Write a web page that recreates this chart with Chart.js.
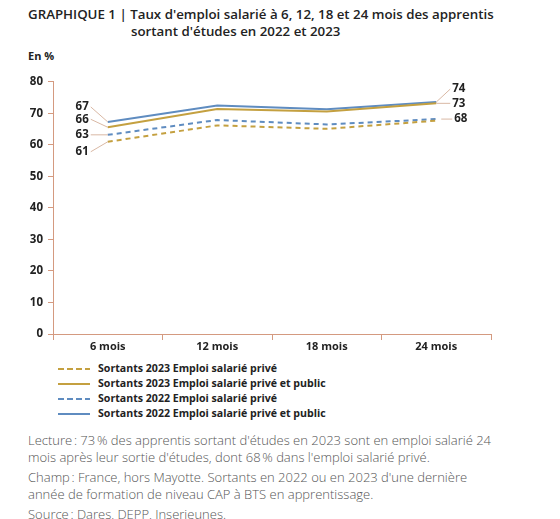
<!DOCTYPE html>
<html lang="fr">
<head>
<meta charset="utf-8">
<script src="https://cdn.jsdelivr.net/npm/chart.js@4"></script>
<style>
  body { margin: 0; background: #fff; font-family: "Open Sans", sans-serif; color: #222; }
  #wrap { position: relative; width: 560px; height: 519px; overflow: hidden; }
  #titre { position: absolute; left: 28px; top: 6px; font-size: 13.3px; font-weight: 600; line-height: 17px; color: #222; }
  #titre .l2 { padding-left: 103px; }
  #unite { position: absolute; left: 28px; top: 48px; font-size: 11px; font-weight: 700; }
  #cv { position: absolute; left: 0; top: 70px; }
  #legende { position: absolute; left: 58px; top: 361px; font-size: 10.6px; font-weight: 700; line-height: 15px; }
  #legende div { display: flex; align-items: center; }
  #legende i { display: inline-block; width: 32px; height: 2px; margin-right: 8px; }
  #notes { position: absolute; left: 28px; top: 432px; width: 472px; font-size: 13px; color: #555; line-height: 16.5px; font-weight: 300; }
  #notes p { margin: 0 0 4px 0; }
</style>
</head>
<body>
<div id="wrap">
  <div id="titre">GRAPHIQUE 1 | Taux d'emploi salarié à 6, 12, 18 et 24 mois des apprentis<br><span class="l2">sortant d'études en 2022 et 2023</span></div>
  <div id="unite">En %</div>
  <canvas id="cv" width="520" height="290"></canvas>
  <div id="legende"></div>
  <div id="notes">
    <p>Lecture&#8239;: 73&#8239;% des apprentis sortant d'études en 2023 sont en emploi salarié 24 mois après leur sortie d'études, dont 68&#8239;% dans l'emploi salarié privé.</p>
    <p>Champ&#8239;: France, hors Mayotte. Sortants en 2022 ou en 2023 d'une dernière année de formation de niveau CAP à BTS en apprentissage.</p>
    <p>Source&#8239;: Dares, DEPP, Inserjeunes.</p>
  </div>
</div>
<script>
let mois = ["6 mois", "12 mois", "18 mois", "24 mois"];
let yTicks = [0, 10, 20, 30, 40, 50, 60, 70, 80];

let prive2023 = [61.0, 66.2, 65.1, 67.7];
let total2023 = [65.6, 71.4, 70.6, 73.2];
let prive2022 = [63.2, 67.9, 66.5, 68.2];
let total2022 = [67.3, 72.5, 71.3, 73.6];

let noms = [
  "Sortants 2023 Emploi salarié privé",
  "Sortants 2023 Emploi salarié privé et public",
  "Sortants 2022 Emploi salarié privé",
  "Sortants 2022 Emploi salarié privé et public"
];

let OR = "#c4a040";
let BLEU = "#5f8cc0";
let AXE = "#d49a80";

// étiquettes : [dataset, index, dx, dy] position du texte par rapport au point
let etiquettes = [
  [3, 0, -20, -15],
  [1, 0, -20, -8],
  [2, 0, -20, 0],
  [0, 0, -20, 10],
  [3, 3, 16, -13],
  [1, 3, 16, 0],
  [2, 3, 18, 0]
];

let pluginEtiquettes = {
  id: "etiquettes",
  afterDatasetsDraw(chart) {
    let ctx = chart.ctx;
    ctx.save();
    ctx.font = "700 11.5px 'Open Sans'";
    ctx.fillStyle = "#222";
    ctx.textBaseline = "middle";
    etiquettes.forEach(([d, i, dx, dy]) => {
      let pt = chart.getDatasetMeta(d).data[i];
      let v = chart.data.datasets[d].data[i];
      let tx = pt.x + dx, ty = pt.y + dy;
      ctx.strokeStyle = "#d9b8a4";
      ctx.lineWidth = 1;
      ctx.beginPath();
      if (dx < 0) {
        ctx.moveTo(pt.x, pt.y);
        ctx.lineTo(tx + 3, ty);
        ctx.stroke();
        ctx.textAlign = "right";
        ctx.fillText(Math.round(v), tx + 1, ty);
      } else {
        ctx.moveTo(pt.x + (dy === 0 && d === 2 ? 5 : 0), pt.y);
        ctx.lineTo(tx - 2, ty);
        ctx.stroke();
        ctx.textAlign = "left";
        ctx.fillText(Math.round(v), tx, ty);
      }
    });
    ctx.restore();
  }
};

function serie(label, data, couleur, pointille) {
  return {
    label, data,
    borderColor: couleur,
    backgroundColor: couleur,
    borderWidth: 2,
    borderDash: pointille ? [5, 4] : [],
    pointRadius: 0,
    tension: 0,
    fill: false
  };
}

let datasets = [
  serie(noms[0], prive2023, OR, true),
  serie(noms[1], total2023, OR, false),
  serie(noms[2], prive2022, BLEU, true),
  serie(noms[3], total2022, BLEU, false)
];

new Chart(document.getElementById("cv"), {
  type: "line",
  data: { labels: mois, datasets: datasets },
  plugins: [pluginEtiquettes],
  options: {
    responsive: false,
    animation: false,
    layout: { padding: { top: 11, right: 29, left: 0, bottom: 0 } },
    plugins: { legend: { display: false }, tooltip: { enabled: false } },
    scales: {
      x: {
        offset: true,
        grid: { offset: true, drawOnChartArea: false, color: AXE, tickLength: 6 },
        border: { color: AXE, width: 1 },
        ticks: { color: "#222", font: { family: "Open Sans", size: 11, weight: 700 }, padding: 0, maxRotation: 0 },
        afterFit(s) { s.height = 26; }
      },
      y: {
        min: 0, max: 80,
        afterBuildTicks(s) { s.ticks = yTicks.map(v => ({ value: v })); },
        grid: { drawOnChartArea: false, color: AXE, tickLength: 5 },
        border: { color: AXE, width: 1 },
        ticks: { color: "#222", font: { family: "Open Sans", size: 11.5, weight: 700 }, padding: 5 },
        afterFit(s) { s.width = 53; }
      }
    }
  }
});

// légende
let leg = document.getElementById("legende");
datasets.forEach(ds => {
  let ligne = document.createElement("div");
  let trait = document.createElement("i");
  if (ds.borderDash.length) {
    trait.style.background = `repeating-linear-gradient(90deg, ${ds.borderColor} 0 6px, transparent 6px 9px)`;
  } else {
    trait.style.background = ds.borderColor;
  }
  ligne.appendChild(trait);
  ligne.appendChild(document.createTextNode(ds.label));
  leg.appendChild(ligne);
});
</script>
</body>
</html>
